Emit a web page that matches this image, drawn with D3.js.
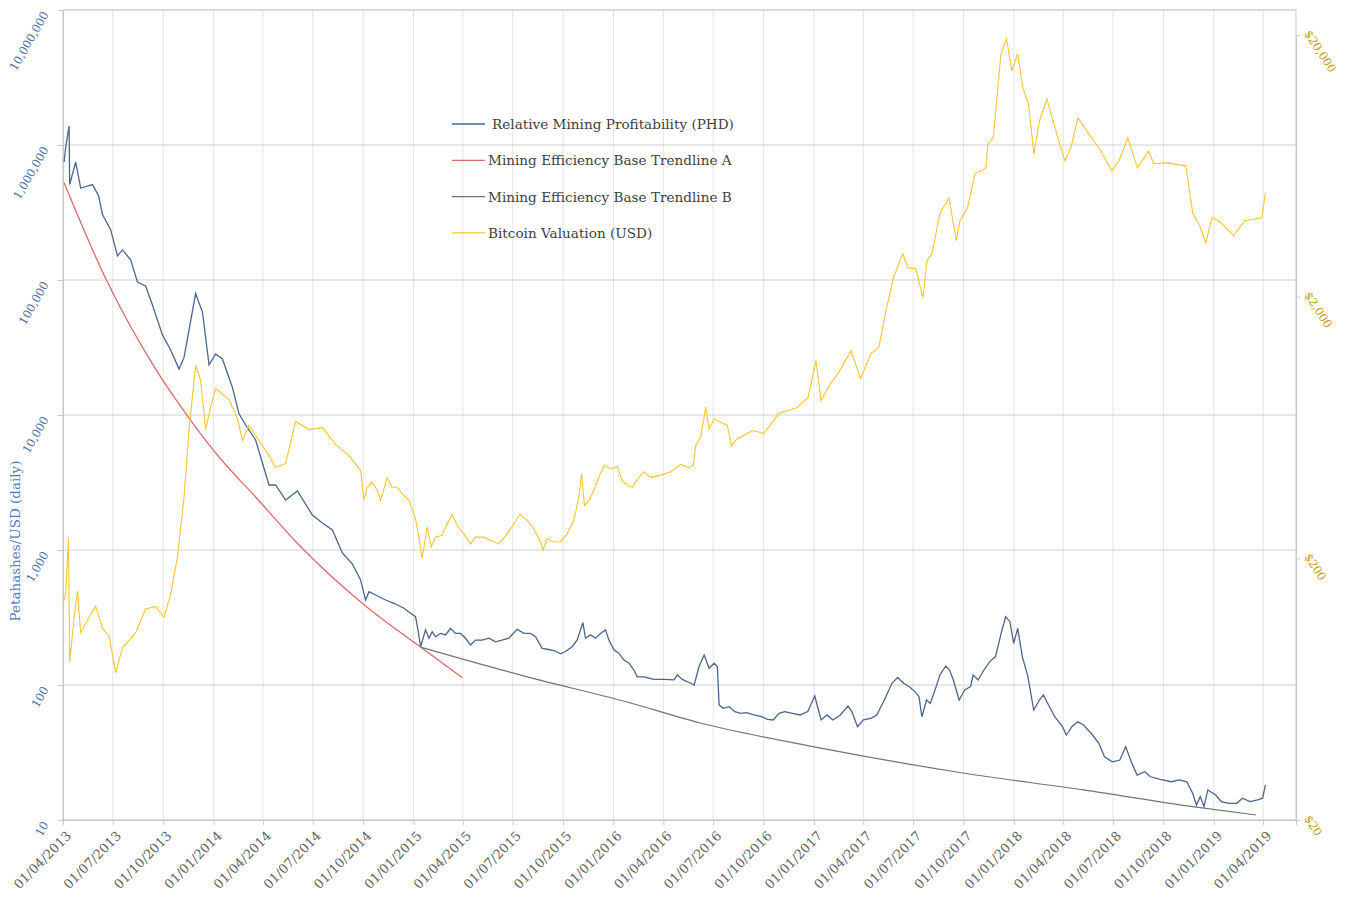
<!DOCTYPE html>
<html>
<head>
<meta charset="utf-8">
<script src="https://cdn.jsdelivr.net/npm/d3@7"></script>
<style>
  body { margin: 0; background: #fff; }
  text { font-family: "DejaVu Serif", serif; }
</style>
</head>
<body>
<svg id="chart" width="1347" height="898"></svg>
<script>
// values, time in decimal years
var phd = [[2013.252,748000],[2013.26,966000],[2013.277,1383000],[2013.28,509000],[2013.31,748000],[2013.335,480000],[2013.394,509000],[2013.425,419000],[2013.444,305000],[2013.485,236000],[2013.519,151000],[2013.544,167000],[2013.585,141000],[2013.619,96600],[2013.66,90300],[2013.694,65300],[2013.744,39200],[2013.785,30300],[2013.827,21900],[2013.852,26700],[2013.91,79400],[2013.944,57900],[2013.977,23500],[2014.01,28300],[2014.044,26000],[2014.094,16000],[2014.127,10200],[2014.16,8430],[2014.21,6530],[2014.244,4410],[2014.277,3030],[2014.31,3030],[2014.36,2345],[2014.419,2735],[2014.494,1816],[2014.544,1585],[2014.594,1406],[2014.644,950],[2014.694,787],
  [2014.735,600],[2014.76,426],[2014.777,491],[2014.81,464],[2014.86,426],[2014.902,403],[2014.952,370],[2014.985,340],[2015.01,321],[2015.022,256],[2015.035,192],[2015.06,256],[2015.077,222],[2015.093,248],[2015.11,228],[2015.135,241],[2015.16,235],[2015.185,263],[2015.21,241],[2015.235,241],[2015.26,222],[2015.285,198],[2015.31,215],[2015.343,215],[2015.377,222],[2015.41,209],[2015.443,215],[2015.477,222],[2015.518,258],[2015.552,241],[2015.585,241],[2015.61,228],[2015.643,187],[2015.668,184],[2015.702,180],[2015.735,170],[2015.76,177],[2015.793,192],[2015.818,215],[2015.835,256],[2015.847,290],[2015.86,222],[2015.885,235],[2015.91,222],[2015.935,241],[2015.96,256],[2015.977,215],[2016.002,182],[2016.027,172],[2016.052,153],[2016.077,145],[2016.102,129],[2016.118,115],[2016.152,115],[2016.202,110],[2016.252,110],[2016.302,109],[2016.318,119],[2016.343,110],[2016.385,103],[2016.402,100],[2016.427,137],[2016.452,167],[2016.477,133],[2016.502,145],[2016.518,137],[2016.527,71],
  [2016.548,67.2],[2016.577,69.1],[2016.605,63.5],[2016.634,61.7],[2016.663,62.4],[2016.701,60],[2016.739,58.2],[2016.768,55.7],[2016.797,55.1],[2016.826,61.7],[2016.854,63.5],[2016.893,61.7],[2016.931,60],[2016.969,63.5],[2017.004,82.9],[2017.017,69.9],[2017.036,55.1],[2017.065,60],[2017.094,55.1],[2017.132,60],[2017.17,69.9],[2017.189,63.5],[2017.218,49.1],[2017.247,55.1],[2017.285,56.6],[2017.314,60],[2017.352,77.4],[2017.39,102.9],[2017.419,114],[2017.448,102.9],[2017.477,97.2],[2017.505,89.3],[2017.525,82],[2017.54,58.2],[2017.563,77.4],[2017.582,73.1],[2017.611,97.2],[2017.63,118.6],[2017.659,138.3],[2017.678,129.2],[2017.697,108.9],[2017.726,77.4],[2017.754,91.9],[2017.783,97.2],[2017.796,118.6],[2017.821,108.9],[2017.85,129.2],[2017.879,149],[2017.908,162.3],[2017.936,241.5],[2017.959,320.9],[2017.98,294.5],[2017.999,203.7],[2018.019,263],[2018.042,162.3],[2018.07,115.3],[2018.099,65.3],[2018.128,77.4],[2018.147,84.4],[2018.176,69.9],[2018.204,58.2],[2018.243,49.1],[2018.262,42.6],[2018.29,49.1],[2018.319,53.5],[2018.348,50.5],[2018.386,43.9],[2018.425,37],[2018.453,29.4],[2018.492,27],[2018.53,27.8],[2018.559,34.9],[2018.587,27],[2018.616,21.5],[2018.654,22.8],[2018.683,20.9],[2018.731,20],[2018.788,19.2],[2018.827,19.8],[2018.865,19.2],[2018.894,15.8],[2018.913,12.9],[2018.932,14.9],[2018.951,12.6],[2018.97,16.7],[2019.009,15.3],[2019.037,13.7],[2019.076,13.3],[2019.114,13.3],[2019.143,14.5],[2019.181,13.7],[2019.219,14.1],[2019.244,14.5],[2019.258,18.2]];

var btc = [[2013.247,136],[2013.26,146],[2013.274,238],[2013.28,80],[2013.302,119],[2013.319,150],[2013.335,104],[2013.377,119],[2013.41,131],[2013.444,108],[2013.477,101],[2013.51,73],[2013.544,91],[2013.61,104],[2013.66,128],[2013.71,131],[2013.752,119],[2013.785,146],[2013.819,202],[2013.852,342],[2013.877,621],[2013.91,1091],[2013.935,955],[2013.96,621],[2013.985,760],[2014.01,891],[2014.077,809],[2014.119,684],[2014.144,564],[2014.177,644],[2014.227,564],[2014.277,494],[2014.31,445],[2014.36,461],[2014.41,667],[2014.477,621],[2014.544,632],[2014.61,545],[2014.677,494],
  [2014.735,434],[2014.752,333],[2014.768,374],[2014.793,391],[2014.818,364],[2014.835,333],[2014.868,406],[2014.893,374],[2014.918,374],[2014.943,353],[2014.977,333],[2015.01,283],[2015.032,227],[2015.043,200],[2015.068,264],[2015.088,221],[2015.11,241],[2015.143,245],[2015.168,271],[2015.193,294],[2015.218,267],[2015.252,248],[2015.285,227],[2015.31,241],[2015.352,241],[2015.385,234],[2015.427,227],[2015.468,248],[2015.502,271],[2015.532,294],[2015.568,280],[2015.602,259],[2015.627,238],[2015.648,215],[2015.668,238],[2015.702,231],[2015.735,231],[2015.768,248],[2015.802,280],[2015.827,343],[2015.84,421],[2015.855,318],[2015.877,333],[2015.902,364],[2015.927,408],[2015.952,453],[2015.985,440],[2016.018,449],[2016.043,397],[2016.068,380],[2016.093,374],[2016.127,408],[2016.152,428],[2016.185,408],[2016.235,415],[2016.285,428],[2016.335,457],[2016.377,444],[2016.398,453],[2016.41,540],[2016.435,581],[2016.46,757],[2016.477,626],[2016.502,682],[2016.535,662],[2016.568,644],[2016.588,540],[2016.618,573],
  [2016.695,616],[2016.75,600],[2016.825,715],[2016.915,753],[2016.97,824],[2017.01,1140],[2017.035,802],[2017.083,931],[2017.12,1016],[2017.185,1244],[2017.233,973],[2017.285,1211],[2017.324,1277],[2017.36,1768],[2017.398,2365],[2017.444,2918],[2017.47,2582],[2017.509,2560],[2017.545,1982],[2017.565,2742],[2017.59,2918],[2017.63,4150],[2017.675,4776],[2017.712,3274],[2017.73,3900],[2017.768,4375],[2017.805,5892],[2017.86,6212],[2017.87,7674],[2017.897,8092],[2017.935,16900],[2017.963,19320],[2017.99,14580],[2018.019,16900],[2018.045,12560],[2018.073,10900],[2018.1,7032],[2018.128,9400],[2018.165,11400],[2018.21,8600],[2018.255,6600],[2018.285,7412],[2018.32,9640],[2018.375,8380],[2018.425,7412],[2018.49,6060],[2018.525,6600],[2018.57,8092],[2018.618,6212],[2018.674,7212],[2018.7,6440],[2018.765,6492],[2018.86,6324],[2018.895,4150],[2018.925,3800],[2018.96,3214],[2018.99,4000],[2019.025,3900],[2019.1,3420],[2019.155,3900],[2019.24,4000],[2019.258,4990]];

var trendA = [[2013.252,526000],[2013.46,102600],[2013.71,21900],[2013.877,9500],[2014.044,4560],[2014.21,2470],[2014.427,1089],[2014.76,385],[2015.035,191],[2015.244,113]];
var trendB = [[2015.035,191],[2015.568,115],[2016.068,74.8],[2016.433,52.3],[2017.008,34.7],[2017.745,22.3],[2018.348,16.7],[2018.903,12.5],[2019.21,10.9]];

var leftTicks = [10, 100, 1000, 10000, 100000, 1000000, 10000000];
var rightTicks = [20, 200, 2000, 20000];
var legendNames = ['Relative Mining Profitability (PHD)', 'Mining Efficiency Base Trendline A', 'Mining Efficiency Base Trendline B', 'Bitcoin Valuation (USD)'];
var colors = ['#4a6690', '#e06a6a', '#6f776f', '#ffc52e'];

var margin = {top: 10, left: 63, right: 51, bottom: 78};
var W = 1347, H = 898;
var w = W - margin.left - margin.right, h = H - margin.top - margin.bottom;

function toDate(t) {
    var y = Math.floor(t);
    var a = new Date(y, 0, 1), b = new Date(y + 1, 0, 1);
    return new Date(+a + (t - y) * (b - a));
}

var svg = d3.select('#chart');
var g = svg.append('g').attr('transform', 'translate(' + margin.left + ',' + margin.top + ')');

var x = d3.scaleTime().domain([new Date(2013, 3, 1), new Date(2019, 4, 31)]).range([0, w]);
var y = d3.scaleLog().domain([10, 10000000]).range([h, 0]);
var y2 = d3.scaleLog().domain([20, 20000]).range([h, 25]);

var xTicks = d3.timeMonth.range(new Date(2013, 3, 1), new Date(2019, 3, 2), 3);

// grid
g.selectAll('.vgrid').data(xTicks).enter().append('line')
    .attr('x1', d => x(d)).attr('x2', d => x(d))
    .attr('y1', 0).attr('y2', h)
    .attr('stroke', '#e4e4e4').attr('stroke-width', 1);
g.selectAll('.hgrid').data(leftTicks).enter().append('line')
    .attr('x1', 0).attr('x2', w)
    .attr('y1', d => y(d)).attr('y2', d => y(d))
    .attr('stroke', '#d2d2d2').attr('stroke-width', 1.2);
g.append('rect').attr('width', w).attr('height', h)
    .attr('fill', 'none').attr('stroke', '#d2d2d2').attr('stroke-width', 1.2);

// axes
var xAxis = g.append('g').attr('transform', 'translate(0,' + h + ')')
    .call(d3.axisBottom(x).tickValues(xTicks).tickSize(5).tickFormat(d3.timeFormat('%d/%m/%Y')));
xAxis.selectAll('text')
    .attr('text-anchor', 'end')
    .attr('dx', 0).attr('dy', 0)
    .attr('transform', 'translate(3,11) rotate(-45)')
    .attr('fill', '#5f5f5f').style('font-size', '13px');

var yAxis = g.append('g')
    .call(d3.axisLeft(y).tickValues(leftTicks).tickSize(5).tickFormat(d3.format(',')));
yAxis.selectAll('text')
    .attr('text-anchor', 'end').attr('x', 0).attr('dy', 0)
    .attr('transform', 'translate(-14,4) rotate(-60)')
    .attr('fill', '#4a6fa8').style('font-size', '11.5px');

var y2Axis = g.append('g').attr('transform', 'translate(' + w + ',0)')
    .call(d3.axisRight(y2).tickValues(rightTicks).tickSize(4).tickFormat(d => '$' + d3.format(',')(d)));
y2Axis.selectAll('text')
    .attr('text-anchor', 'start').attr('x', 0).attr('dy', 0)
    .attr('transform', 'translate(8,-2) rotate(57)')
    .attr('fill', '#c49a06').style('font-size', '11.5px');

[xAxis, yAxis, y2Axis].forEach(function (a) {
    a.select('.domain').attr('stroke', '#c8c8c8');
    a.selectAll('.tick line').attr('stroke', '#c8c8c8');
});

svg.append('text')
    .attr('transform', 'translate(20,' + 541 + ') rotate(-90)')
    .attr('text-anchor', 'middle')
    .attr('fill', '#4f7bbf').style('font-size', '13.5px')
    .text('Petahashes/USD (daily)');

// series
var lineL = d3.line().x(d => x(toDate(d[0]))).y(d => y(d[1]));
var lineR = d3.line().x(d => x(toDate(d[0]))).y(d => y2(d[1]));
var curveL = d3.line().curve(d3.curveMonotoneX).x(d => x(toDate(d[0]))).y(d => y(d[1]));

g.append('path').datum(phd).attr('d', lineL)
    .attr('fill', 'none').attr('stroke', colors[0]).attr('stroke-width', 1.3);
g.append('path').datum(trendA).attr('d', curveL)
    .attr('fill', 'none').attr('stroke', colors[1]).attr('stroke-width', 1.3);
g.append('path').datum(trendB).attr('d', curveL)
    .attr('fill', 'none').attr('stroke', colors[2]).attr('stroke-width', 1.2);
g.append('path').datum(btc).attr('d', lineR)
    .attr('fill', 'none').attr('stroke', colors[3]).attr('stroke-width', 1.1);

// legend
var legend = svg.append('g').attr('transform', 'translate(452,124)');
legendNames.forEach(function (name, i) {
    var row = legend.append('g').attr('transform', 'translate(0,' + (i * 36.3) + ')');
    row.append('line').attr('x1', 0).attr('x2', 33).attr('y1', 0).attr('y2', 0)
        .attr('stroke', colors[i]).attr('stroke-width', 1.3);
    row.append('text').attr('x', i === 0 ? 40 : 36).attr('y', 5)
        .attr('fill', '#404040').style('font-size', '13.6px').text(name);
});
</script>
</body>
</html>
